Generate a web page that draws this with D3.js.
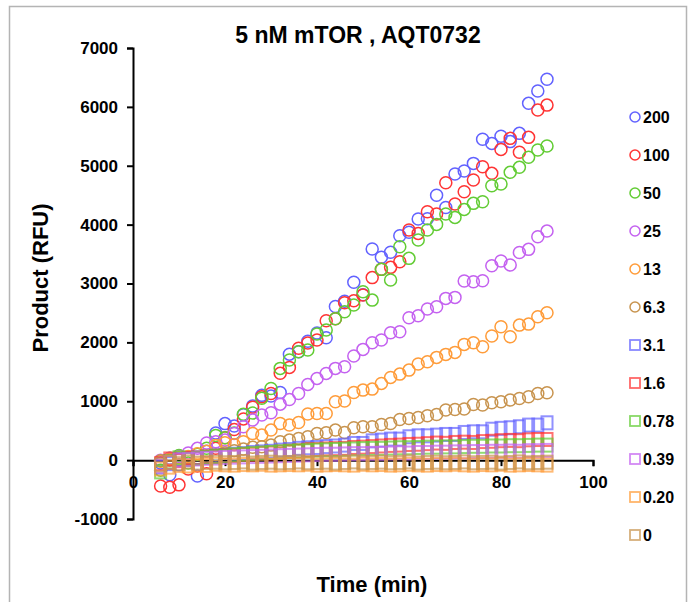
<!DOCTYPE html>
<html>
<head>
<meta charset="utf-8">
<script src="https://cdn.jsdelivr.net/npm/d3@7"></script>
<style>
  body { margin: 0; background: #fff; }
  svg { font-family: Arial, "Liberation Sans", sans-serif; font-weight: bold; }
  .axis path, .axis line { stroke: #000; stroke-width: 2; }
  .axis text { font-size: 17px; font-weight: bold; fill: #000; }
</style>
</head>
<body>
<svg width="698" height="602"></svg>
<script>
const times = [6, 8, 10, 12, 14, 16, 18, 20, 22, 24, 26, 28, 30, 32, 34, 36, 38, 40, 42, 44, 46, 48,
  50, 52, 54, 56, 58, 60, 62, 64, 66, 68, 70, 72, 74, 76, 78, 80, 82, 84, 86, 88, 90];

const s200 = [-50, -250, -80, 40, -270, 150, 460, 620, 580, 770, 920, 1100, 1090, 1150, 1800, 1840, 2020, 2160, 2080, 2610, 2700, 3020,
  2810, 3585, 3445, 3530, 3810, 3870, 4095, 4100, 4500, 4290, 4860, 4910, 5040, 5450, 5380, 5500, 5410, 5550, 6060, 6270, 6470];
const s100 = [-440, -460, -420, -150, -100, -230, 200, 380, 520, 700, 900, 1076, 1133, 1474, 1575, 1900, 1990, 2040, 2367, 2400, 2673, 2708,
  2805, 3100, 3240, 3274, 3370, 3910, 3851, 4219, 4180, 4711, 4350, 4559, 4757, 4983, 4871, 5278, 5465, 5228, 5482, 5947, 6030];
const s50 = [-170, 30, 80, -50, 100, 200, 420, 380, 460, 780, 800, 1050, 1218, 1558, 1700, 1840, 1870, 2141, 2210, 2400, 2520, 2635,
  2860, 2718, 3240, 3058, 3624, 3427, 3738, 3908, 4004, 4180, 4123, 4259, 4361, 4389, 4660, 4689, 4888, 4973, 5143, 5267, 5335];
const s25 = [0, 30, 60, 120, 200, 290, 310, 340, 453, 566, 680, 765, 804, 951, 1031, 1133, 1286, 1388, 1473, 1558, 1586, 1768,
  1881, 1993, 2039, 2163, 2180, 2418, 2452, 2566, 2605, 2747, 2764, 3041, 3030, 3047, 3302, 3381, 3313, 3528, 3580, 3794, 3890];
const s13 = [-20, 20, 40, 60, 110, 150, 250, 294, 260, 311, 453, 425, 510, 623, 595, 640, 782, 793, 793, 991, 1003, 1150,
  1189, 1206, 1303, 1405, 1461, 1529, 1632, 1671, 1745, 1796, 1830, 1966, 1994, 1926, 2107, 2265, 2096, 2293, 2310, 2435, 2503];
const s6_3 = [-10, 0, 10, 30, 40, 60, 90, 120, 160, 190, 220, 227, 255, 311, 340, 368, 397, 453, 465, 510, 470, 549,
  567, 567, 606, 623, 691, 708, 725, 753, 776, 850, 861, 867, 946, 935, 974, 991, 1020, 1048, 1076, 1133, 1144];
const s3_1 = [-120, -60, 10, 20, 40, 50, 70, 80, 100, 110, 130, 140, 150, 170, 180, 200, 210, 215, 230, 240, 255, 283,
  283, 327, 340, 357, 357, 397, 413, 413, 425, 436, 436, 470, 481, 481, 525, 540, 550, 567, 595, 595, 634];
const s1_6 = [-60, 20, -10, 30, 35, 55, 60, 75, 80, 95, 100, 115, 120, 135, 150, 155, 170, 180, 190, 195, 200, 215,
  220, 230, 240, 250, 255, 266, 270, 280, 290, 285, 300, 305, 300, 315, 320, 330, 335, 330, 345, 350, 351];
const s0_78 = [-200, -30, 40, 10, 30, 50, 60, 70, 90, 100, 110, 120, 130, 140, 150, 155, 160, 170, 175, 180, 185, 190,
  195, 200, 200, 205, 210, 210, 215, 220, 220, 225, 225, 230, 235, 235, 240, 240, 245, 245, 250, 255, 255];
const s0_39 = [-100, -40, 0, 10, 20, 30, 35, 45, 50, 55, 60, 65, 70, 75, 80, 85, 90, 95, 100, 100, 105, 110,
  110, 115, 115, 120, 125, 120, 130, 130, 135, 135, 140, 140, 145, 145, 150, 150, 155, 150, 160, 160, 165];
const s0_20 = [-150, -120, -90, -100, -80, -90, -70, -80, -85, -75, -80, -70, -85, -80, -75, -80, -70, -85, -80, -75, -80, -85,
  -70, -80, -75, -85, -80, -70, -80, -85, -75, -80, -70, -80, -85, -75, -80, -70, -85, -80, -75, -80, -85];
const s0 = [-80, -40, -60, -30, -50, -40, -35, -45, -40, -30, -50, -40, -35, -45, -40, -30, -45, -40, -35, -50, -40, -30,
  -45, -40, -35, -45, -40, -30, -50, -40, -35, -45, -40, -30, -45, -40, -35, -50, -40, -30, -45, -40, -35];

const seriesNames = ["200", "100", "50", "25", "13", "6.3", "3.1", "1.6", "0.78", "0.39", "0.20", "0"];
const seriesValues = [s200, s100, s50, s25, s13, s6_3, s3_1, s1_6, s0_78, s0_39, s0_20, s0];
const seriesShapes = ["circle", "circle", "circle", "circle", "circle", "circle",
  "square", "square", "square", "square", "square", "square"];
const seriesColors = ["#6262ff", "#ff3434", "#62cc34", "#c462f0", "#ff9c3a", "#c8944f",
  "#6262ff", "#ff3434", "#62cc34", "#c462f0", "#ff9c3a", "#c8944f"];

const xTicks = [0, 20, 40, 60, 80, 100];
const yTicks = [-1000, 0, 1000, 2000, 3000, 4000, 5000, 6000, 7000];

const svg = d3.select("svg");

// frame
svg.append("path")
  .attr("d", "M9.5,602V6.5H686.5V602")
  .attr("fill", "none")
  .attr("stroke", "#b4b4b4")
  .attr("stroke-width", 1.5);

const x = d3.scaleLinear().domain([0, 100]).range([133, 593]);
const y = d3.scaleLinear().domain([-1000, 7000]).range([519, 48]);

svg.append("g")
  .attr("class", "axis")
  .attr("transform", "translate(133,0)")
  .call(d3.axisLeft(y).tickValues(yTicks).tickSize(6).tickPadding(9).tickFormat(d => String(d)));

svg.append("g")
  .attr("class", "axis")
  .attr("transform", `translate(0,${y(0)})`)
  .call(d3.axisBottom(x).tickValues(xTicks).tickSize(6).tickPadding(10).tickFormat(d => String(d)));

// points
seriesValues.forEach((vals, i) => {
  const g = svg.append("g");
  const pts = times.map((t, j) => ({ t: t, v: vals[j] }));
  if (seriesShapes[i] === "circle") {
    g.selectAll("circle")
      .data(pts)
      .enter()
      .append("circle")
      .attr("cx", d => x(d.t))
      .attr("cy", d => y(d.v))
      .attr("r", 6)
      .attr("fill", "none")
      .attr("stroke", seriesColors[i])
      .attr("stroke-width", 1.5);
  } else {
    g.selectAll("rect")
      .data(pts)
      .enter()
      .append("rect")
      .attr("x", d => x(d.t) - 5.5)
      .attr("y", d => y(d.v) - 6.5)
      .attr("width", 11)
      .attr("height", 13)
      .attr("fill", "none")
      .attr("stroke", seriesColors[i])
      .attr("stroke-opacity", 0.7)
      .attr("stroke-width", 2);
  }
});

// titles
svg.append("text")
  .attr("x", 358)
  .attr("y", 43)
  .attr("text-anchor", "middle")
  .attr("font-size", 23)
  .text("5 nM mTOR , AQT0732");

svg.append("text")
  .attr("x", 372)
  .attr("y", 592)
  .attr("text-anchor", "middle")
  .attr("font-size", 22)
  .text("Time (min)");

svg.append("text")
  .attr("transform", "translate(40,278) rotate(-90)")
  .attr("text-anchor", "middle")
  .attr("dy", "0.35em")
  .attr("font-size", 22)
  .text("Product (RFU)");

// legend
const legend = svg.append("g");
seriesNames.forEach((name, i) => {
  const ly = 117 + i * 38;
  if (seriesShapes[i] === "circle") {
    legend.append("circle")
      .attr("cx", 635).attr("cy", ly).attr("r", 5)
      .attr("fill", "none").attr("stroke", seriesColors[i]).attr("stroke-width", 1.5);
  } else {
    legend.append("rect")
      .attr("x", 630).attr("y", ly - 5).attr("width", 10).attr("height", 10)
      .attr("fill", "none").attr("stroke", seriesColors[i])
      .attr("stroke-opacity", 0.75).attr("stroke-width", 1.8);
  }
  legend.append("text")
    .attr("x", 643)
    .attr("y", ly)
    .attr("dy", "0.36em")
    .attr("font-size", 16)
    .text(name);
});
</script>
</body>
</html>
